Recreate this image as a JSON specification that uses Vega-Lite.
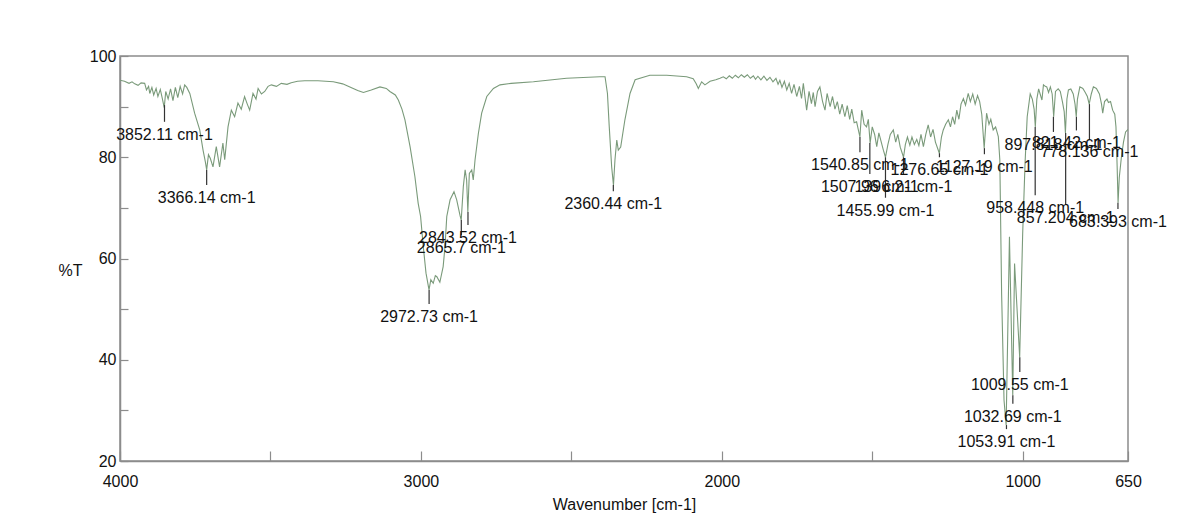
{
  "$schema": "https://vega.github.io/schema/vega-lite/v6.json",
  "width": 1008,
  "height": 405,
  "autosize": {"type": "none"},
  "padding": {"left": 120, "top": 56, "right": 56, "bottom": 67},
  "background": "white",
  "config": {
    "view": {"stroke": "#8c8c8c", "strokeWidth": 1.5},
    "font": "Liberation Sans",
    "axis": {"labelFont": "Liberation Sans", "titleFont": "Liberation Sans", "labelColor": "#111111", "titleColor": "#111111", "domainColor": "#8c8c8c", "domainWidth": 1.5, "tickColor": "#8c8c8c", "grid": false}
  },
  "datasets": {
    "spectrum": [
      {"wn": 4000, "T": 95.2}, {"wn": 3985, "T": 95.0}, {"wn": 3970, "T": 94.6}, {"wn": 3960, "T": 94.9}, {"wn": 3951, "T": 94.5},
      {"wn": 3940, "T": 94.2}, {"wn": 3930, "T": 94.7}, {"wn": 3918, "T": 94.6}, {"wn": 3912, "T": 93.3}, {"wn": 3905, "T": 94.0},
      {"wn": 3901, "T": 92.6}, {"wn": 3894, "T": 93.8}, {"wn": 3888, "T": 92.3}, {"wn": 3880, "T": 93.6}, {"wn": 3874, "T": 92.0},
      {"wn": 3866, "T": 93.4}, {"wn": 3860, "T": 91.8}, {"wn": 3853, "T": 89.8}, {"wn": 3848, "T": 93.0}, {"wn": 3840, "T": 91.5},
      {"wn": 3832, "T": 93.5}, {"wn": 3824, "T": 91.2}, {"wn": 3816, "T": 93.8}, {"wn": 3808, "T": 91.8}, {"wn": 3800, "T": 94.0},
      {"wn": 3792, "T": 92.5}, {"wn": 3785, "T": 94.3}, {"wn": 3778, "T": 93.8}, {"wn": 3768, "T": 92.6}, {"wn": 3752, "T": 88.7},
      {"wn": 3735, "T": 85.4}, {"wn": 3724, "T": 81.4}, {"wn": 3716, "T": 79.0}, {"wn": 3712, "T": 77.5}, {"wn": 3706, "T": 80.5},
      {"wn": 3700, "T": 79.8}, {"wn": 3691, "T": 78.1}, {"wn": 3680, "T": 82.1}, {"wn": 3669, "T": 78.1}, {"wn": 3658, "T": 82.8},
      {"wn": 3652, "T": 79.5}, {"wn": 3641, "T": 86.0}, {"wn": 3630, "T": 89.3}, {"wn": 3619, "T": 88.0}, {"wn": 3608, "T": 90.7},
      {"wn": 3597, "T": 89.5}, {"wn": 3586, "T": 92.0}, {"wn": 3577, "T": 90.5}, {"wn": 3569, "T": 89.3}, {"wn": 3558, "T": 92.6},
      {"wn": 3548, "T": 91.5}, {"wn": 3541, "T": 93.6}, {"wn": 3530, "T": 92.5}, {"wn": 3519, "T": 93.0}, {"wn": 3508, "T": 94.0},
      {"wn": 3497, "T": 94.3}, {"wn": 3480, "T": 94.0}, {"wn": 3464, "T": 94.6}, {"wn": 3445, "T": 94.4}, {"wn": 3431, "T": 94.7},
      {"wn": 3410, "T": 95.0}, {"wn": 3386, "T": 95.1}, {"wn": 3342, "T": 95.1}, {"wn": 3291, "T": 94.9}, {"wn": 3260, "T": 94.5},
      {"wn": 3236, "T": 93.9}, {"wn": 3210, "T": 93.2}, {"wn": 3191, "T": 92.8}, {"wn": 3165, "T": 93.3}, {"wn": 3136, "T": 93.9},
      {"wn": 3115, "T": 93.6}, {"wn": 3103, "T": 93.0}, {"wn": 3085, "T": 92.3}, {"wn": 3075, "T": 91.3}, {"wn": 3063, "T": 89.5},
      {"wn": 3053, "T": 87.4}, {"wn": 3036, "T": 82.1}, {"wn": 3020, "T": 76.2}, {"wn": 3009, "T": 70.9}, {"wn": 3001, "T": 68.3},
      {"wn": 2992, "T": 62.3}, {"wn": 2983, "T": 57.1}, {"wn": 2973, "T": 53.8}, {"wn": 2967, "T": 55.8}, {"wn": 2959, "T": 55.1},
      {"wn": 2952, "T": 56.6}, {"wn": 2947, "T": 56.4}, {"wn": 2937, "T": 55.3}, {"wn": 2926, "T": 58.4}, {"wn": 2920, "T": 62.3},
      {"wn": 2914, "T": 68.3}, {"wn": 2903, "T": 71.6}, {"wn": 2890, "T": 73.2}, {"wn": 2881, "T": 71.6}, {"wn": 2870, "T": 68.5},
      {"wn": 2866, "T": 67.6}, {"wn": 2859, "T": 74.2}, {"wn": 2853, "T": 77.5}, {"wn": 2848, "T": 75.5}, {"wn": 2844, "T": 69.2},
      {"wn": 2839, "T": 76.8}, {"wn": 2831, "T": 77.5}, {"wn": 2826, "T": 75.5}, {"wn": 2820, "T": 79.5}, {"wn": 2809, "T": 84.7},
      {"wn": 2798, "T": 88.7}, {"wn": 2781, "T": 92.0}, {"wn": 2759, "T": 93.6}, {"wn": 2737, "T": 94.3}, {"wn": 2700, "T": 94.6},
      {"wn": 2626, "T": 94.9}, {"wn": 2516, "T": 95.6}, {"wn": 2405, "T": 95.9}, {"wn": 2388, "T": 95.9}, {"wn": 2380, "T": 92.6},
      {"wn": 2374, "T": 86.0}, {"wn": 2366, "T": 78.1}, {"wn": 2360, "T": 74.5}, {"wn": 2355, "T": 79.5}, {"wn": 2349, "T": 83.4},
      {"wn": 2344, "T": 81.4}, {"wn": 2336, "T": 82.0}, {"wn": 2322, "T": 87.4}, {"wn": 2305, "T": 92.6}, {"wn": 2288, "T": 95.3},
      {"wn": 2239, "T": 96.2}, {"wn": 2183, "T": 96.2}, {"wn": 2117, "T": 95.9}, {"wn": 2095, "T": 95.5}, {"wn": 2085, "T": 94.5},
      {"wn": 2078, "T": 93.6}, {"wn": 2067, "T": 94.9}, {"wn": 2056, "T": 94.3}, {"wn": 2039, "T": 95.0}, {"wn": 2020, "T": 95.3},
      {"wn": 2006, "T": 95.6}, {"wn": 1995, "T": 95.9}, {"wn": 1985, "T": 95.5}, {"wn": 1975, "T": 96.1}, {"wn": 1965, "T": 95.6},
      {"wn": 1955, "T": 96.2}, {"wn": 1945, "T": 95.7}, {"wn": 1935, "T": 96.3}, {"wn": 1925, "T": 95.8}, {"wn": 1915, "T": 96.3},
      {"wn": 1905, "T": 95.6}, {"wn": 1895, "T": 96.1}, {"wn": 1888, "T": 95.4}, {"wn": 1880, "T": 96.0}, {"wn": 1870, "T": 95.3},
      {"wn": 1860, "T": 96.0}, {"wn": 1850, "T": 95.2}, {"wn": 1840, "T": 95.8}, {"wn": 1830, "T": 94.9}, {"wn": 1820, "T": 95.6},
      {"wn": 1813, "T": 94.4}, {"wn": 1807, "T": 95.2}, {"wn": 1800, "T": 93.8}, {"wn": 1792, "T": 95.0}, {"wn": 1784, "T": 93.3},
      {"wn": 1776, "T": 94.6}, {"wn": 1768, "T": 92.6}, {"wn": 1760, "T": 94.4}, {"wn": 1751, "T": 92.0}, {"wn": 1742, "T": 94.0},
      {"wn": 1735, "T": 91.6}, {"wn": 1729, "T": 94.6}, {"wn": 1718, "T": 89.3}, {"wn": 1710, "T": 93.0}, {"wn": 1702, "T": 90.6},
      {"wn": 1696, "T": 92.8}, {"wn": 1690, "T": 90.0}, {"wn": 1682, "T": 93.0}, {"wn": 1674, "T": 93.9}, {"wn": 1665, "T": 91.0},
      {"wn": 1657, "T": 89.3}, {"wn": 1650, "T": 92.6}, {"wn": 1640, "T": 90.0}, {"wn": 1632, "T": 92.0}, {"wn": 1624, "T": 89.5},
      {"wn": 1616, "T": 91.0}, {"wn": 1608, "T": 88.5}, {"wn": 1600, "T": 90.5}, {"wn": 1591, "T": 88.0}, {"wn": 1583, "T": 90.2},
      {"wn": 1575, "T": 87.5}, {"wn": 1568, "T": 89.5}, {"wn": 1560, "T": 86.8}, {"wn": 1552, "T": 87.0}, {"wn": 1541, "T": 84.0},
      {"wn": 1535, "T": 89.3}, {"wn": 1527, "T": 86.5}, {"wn": 1519, "T": 86.0}, {"wn": 1513, "T": 87.5}, {"wn": 1507, "T": 82.8},
      {"wn": 1500, "T": 86.0}, {"wn": 1492, "T": 84.5}, {"wn": 1485, "T": 82.1}, {"wn": 1478, "T": 84.8}, {"wn": 1470, "T": 83.0},
      {"wn": 1463, "T": 81.4}, {"wn": 1456, "T": 80.0}, {"wn": 1448, "T": 82.5}, {"wn": 1440, "T": 84.5}, {"wn": 1430, "T": 85.4},
      {"wn": 1422, "T": 83.0}, {"wn": 1415, "T": 84.5}, {"wn": 1407, "T": 82.0}, {"wn": 1396, "T": 80.0}, {"wn": 1390, "T": 82.5},
      {"wn": 1383, "T": 84.0}, {"wn": 1375, "T": 82.4}, {"wn": 1368, "T": 84.0}, {"wn": 1360, "T": 82.5}, {"wn": 1352, "T": 83.5},
      {"wn": 1345, "T": 82.3}, {"wn": 1338, "T": 84.5}, {"wn": 1330, "T": 82.1}, {"wn": 1322, "T": 84.5}, {"wn": 1314, "T": 86.4},
      {"wn": 1306, "T": 84.0}, {"wn": 1298, "T": 85.5}, {"wn": 1290, "T": 83.0}, {"wn": 1277, "T": 80.8}, {"wn": 1270, "T": 84.0},
      {"wn": 1264, "T": 85.4}, {"wn": 1256, "T": 86.5}, {"wn": 1247, "T": 87.4}, {"wn": 1240, "T": 86.0}, {"wn": 1233, "T": 88.0},
      {"wn": 1226, "T": 86.5}, {"wn": 1219, "T": 89.3}, {"wn": 1212, "T": 87.5}, {"wn": 1205, "T": 90.5}, {"wn": 1197, "T": 91.6},
      {"wn": 1190, "T": 90.3}, {"wn": 1181, "T": 92.6}, {"wn": 1174, "T": 91.0}, {"wn": 1166, "T": 92.5}, {"wn": 1158, "T": 90.5},
      {"wn": 1150, "T": 92.2}, {"wn": 1143, "T": 91.0}, {"wn": 1136, "T": 88.5}, {"wn": 1128, "T": 81.8}, {"wn": 1120, "T": 88.7},
      {"wn": 1112, "T": 86.5}, {"wn": 1106, "T": 87.5}, {"wn": 1098, "T": 85.4}, {"wn": 1090, "T": 86.0}, {"wn": 1081, "T": 84.1},
      {"wn": 1076, "T": 79.5}, {"wn": 1070, "T": 53.0}, {"wn": 1062, "T": 32.0}, {"wn": 1055, "T": 27.1}, {"wn": 1044, "T": 64.3},
      {"wn": 1033, "T": 33.0}, {"wn": 1027, "T": 59.0}, {"wn": 1010, "T": 40.5}, {"wn": 1000, "T": 65.0}, {"wn": 992, "T": 79.0},
      {"wn": 985, "T": 88.0}, {"wn": 975, "T": 92.5}, {"wn": 968, "T": 91.5}, {"wn": 962, "T": 89.5}, {"wn": 958, "T": 86.0},
      {"wn": 953, "T": 91.5}, {"wn": 947, "T": 93.5}, {"wn": 942, "T": 92.5}, {"wn": 936, "T": 91.3}, {"wn": 931, "T": 94.3},
      {"wn": 925, "T": 94.0}, {"wn": 920, "T": 93.9}, {"wn": 914, "T": 92.8}, {"wn": 908, "T": 93.9}, {"wn": 902, "T": 92.5},
      {"wn": 897, "T": 88.0}, {"wn": 891, "T": 93.0}, {"wn": 882, "T": 93.5}, {"wn": 875, "T": 93.0}, {"wn": 868, "T": 91.0},
      {"wn": 862, "T": 89.0}, {"wn": 858, "T": 84.8}, {"wn": 853, "T": 91.5}, {"wn": 848, "T": 93.3}, {"wn": 840, "T": 93.5},
      {"wn": 832, "T": 92.5}, {"wn": 826, "T": 90.5}, {"wn": 822, "T": 88.0}, {"wn": 818, "T": 91.5}, {"wn": 810, "T": 93.9},
      {"wn": 800, "T": 93.6}, {"wn": 792, "T": 92.8}, {"wn": 785, "T": 92.0}, {"wn": 779, "T": 90.5}, {"wn": 772, "T": 92.5},
      {"wn": 765, "T": 93.9}, {"wn": 755, "T": 93.6}, {"wn": 745, "T": 92.5}, {"wn": 738, "T": 90.5}, {"wn": 734, "T": 88.7},
      {"wn": 728, "T": 91.0}, {"wn": 720, "T": 91.5}, {"wn": 715, "T": 90.8}, {"wn": 708, "T": 91.0}, {"wn": 701, "T": 89.3},
      {"wn": 694, "T": 88.5}, {"wn": 690, "T": 86.0}, {"wn": 686, "T": 78.0}, {"wn": 683, "T": 71.0}, {"wn": 679, "T": 76.0},
      {"wn": 672, "T": 80.0}, {"wn": 665, "T": 83.0}, {"wn": 658, "T": 85.0}, {"wn": 650, "T": 85.5}
    ],
    "peaks": [
      {"wn": 3852.11, "T": 90.3, "Tl": 87.0, "label": "3852.11 cm-1"},
      {"wn": 3712, "T": 77.5, "Tl": 74.5, "label": "3366.14 cm-1"},
      {"wn": 2972.73, "T": 53.8, "Tl": 51.0, "label": "2972.73 cm-1"},
      {"wn": 2865.7, "T": 67.6, "Tl": 64.6, "label": "2865.7 cm-1"},
      {"wn": 2843.52, "T": 69.2, "Tl": 66.6, "label": "2843.52 cm-1"},
      {"wn": 2360.44, "T": 74.5, "Tl": 73.3, "label": "2360.44 cm-1"},
      {"wn": 1540.85, "T": 84.0, "Tl": 81.0, "label": "1540.85 cm-1"},
      {"wn": 1507.96, "T": 82.8, "Tl": 76.7, "label": "1507.96 cm-1"},
      {"wn": 1455.99, "T": 80.0, "Tl": 72.0, "label": "1455.99 cm-1"},
      {"wn": 1396.21, "T": 80.0, "Tl": 76.7, "label": "1396.21 cm-1"},
      {"wn": 1276.65, "T": 80.8, "Tl": 80.0, "label": "1276.65 cm-1"},
      {"wn": 1127.19, "T": 81.8, "Tl": 80.6, "label": "1127.19 cm-1"},
      {"wn": 1053.91, "T": 27.1, "Tl": 26.3, "label": "1053.91 cm-1"},
      {"wn": 1032.69, "T": 33.0, "Tl": 31.3, "label": "1032.69 cm-1"},
      {"wn": 1009.55, "T": 40.5, "Tl": 37.6, "label": "1009.55 cm-1"},
      {"wn": 958.448, "T": 86.0, "Tl": 72.5, "label": "958.448 cm-1"},
      {"wn": 897.818, "T": 88.0, "Tl": 85.0, "label": "897.818 cm-1"},
      {"wn": 821.42, "T": 88.0, "Tl": 85.3, "label": "821.42 cm-1"},
      {"wn": 857.204, "T": 84.8, "Tl": 70.6, "label": "857.204 cm-1"},
      {"wn": 778.136, "T": 90.5, "Tl": 83.6, "label": "778.136 cm-1"},
      {"wn": 683.393, "T": 71.0, "Tl": 69.8, "label": "683.393 cm-1"}
    ]
  },
  "layer": [
    {
      "data": {"name": "spectrum"},
      "mark": {"type": "line", "color": "#7a9a7a", "strokeWidth": 1.1, "clip": true},
      "encoding": {
        "x": {
          "field": "wn", "type": "quantitative",
          "scale": {"domain": [4000, 650], "nice": false, "zero": false},
          "axis": {
            "values": [4000, 3500, 3000, 2500, 2000, 1500, 1000, 650],
            "labelExpr": "(datum.value == 3500 || datum.value == 2500 || datum.value == 1500) ? '' : datum.label",
            "format": "d",
            "tickSize": -10, "tickWidth": 1.2, "labelPadding": 22, "labelFontSize": 16, "labelFlush": false,
            "title": "Wavenumber [cm-1]", "titleFontSize": 16, "titleFontWeight": "normal", "titlePadding": 7
          }
        },
        "y": {
          "field": "T", "type": "quantitative",
          "scale": {"domain": [20, 100], "nice": false, "zero": false},
          "axis": {
            "values": [20, 30, 40, 50, 60, 70, 80, 90, 100],
            "labelExpr": "datum.value % 20 == 0 ? datum.label : ''",
            "tickSize": -8, "tickWidth": 1.2, "labelPadding": 12, "labelFontSize": 16, "labelFlush": false,
            "title": "%T", "titleFontSize": 16, "titleFontWeight": "normal", "titleAngle": 0,
            "titleAlign": "center", "titleBaseline": "middle", "titleX": -50, "titleY": 214
          }
        }
      }
    },
    {
      "data": {"name": "peaks"},
      "mark": {"type": "rule", "color": "#333333", "strokeWidth": 1.2},
      "encoding": {
        "x": {"field": "wn", "type": "quantitative"},
        "y": {"field": "T", "type": "quantitative"},
        "y2": {"field": "Tl"}
      }
    },
    {
      "data": {"name": "peaks"},
      "mark": {"type": "text", "fontSize": 16, "color": "#111111", "align": "center", "baseline": "middle", "dy": 13, "font": "Liberation Sans"},
      "encoding": {
        "x": {"field": "wn", "type": "quantitative"},
        "y": {"field": "Tl", "type": "quantitative"},
        "text": {"field": "label"}
      }
    }
  ]
}
